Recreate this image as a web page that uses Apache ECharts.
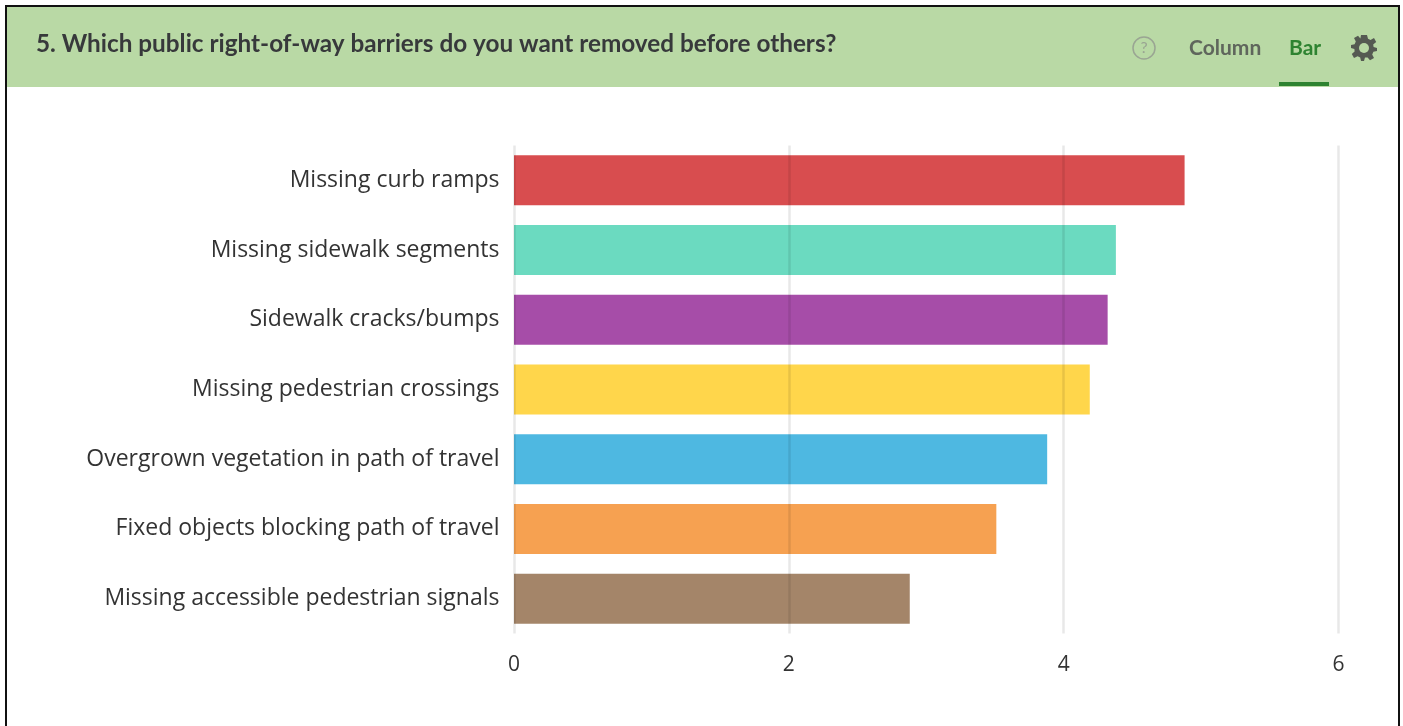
<!DOCTYPE html>
<html>
<head>
<meta charset="utf-8">
<title>Public right-of-way barriers</title>
<style>
html,body{margin:0;padding:0;background:#fff}
#chart{width:1403px;height:726px}
</style>
<script src="https://cdn.jsdelivr.net/npm/echarts@6/dist/echarts.min.js"></script>
</head>
<body>
<div id="chart"></div>
<script>
const questionTitle = '5. Which public right-of-way barriers do you want removed before others?';
const categories = [
  'Missing curb ramps',
  'Missing sidewalk segments',
  'Sidewalk cracks/bumps',
  'Missing pedestrian crossings',
  'Overgrown vegetation in path of travel',
  'Fixed objects blocking path of travel',
  'Missing accessible pedestrian signals'
];
const averageRanks = [4.88, 4.38, 4.32, 4.19, 3.88, 3.51, 2.88];
const barColors = ['#d12e30', '#51d3b5', '#962e99', '#ffcf2b', '#2fabdc', '#f59032', '#94704f'];
const tabLabels = ['Column', 'Bar'];

// Outline of the settings gear, centred on the origin
const gearOutline = [
  [-3,-13],[3,-13],[4,-9.2],[6.5,-8],[10,-10],[12.2,-6],[9.2,-3.6],[9.6,-1],[13,0],
  [13,3],[9.4,3.8],[8.2,6.4],[10,10],[6,12.2],[3.6,9.4],[1,9.6],[0,13],
  [-3,13],[-3.8,9.4],[-6.4,8.2],[-10,10],[-12.2,6],[-9.4,3.6],[-9.6,1],[-13,0],
  [-13,-3],[-9.4,-3.8],[-8.2,-6.4],[-10,-10],[-6,-12.2],[-3.6,-9.4]
];

const chart = echarts.init(document.getElementById('chart'), null, {renderer: 'canvas'});
chart.setOption({
  animation: false,
  backgroundColor: '#ffffff',
  grid: {left: 514, right: 64.5, top: 145.5, bottom: 92.5, containLabel: false},
  xAxis: {
    type: 'value',
    z: 3,
    min: 0,
    max: 6,
    interval: 2,
    axisLine: {show: false},
    axisTick: {show: false},
    axisLabel: {color: '#333333', fontFamily: 'Open Sans', fontSize: 21, margin: 21},
    splitLine: {show: true, lineStyle: {color: 'rgba(0,0,0,0.09)', width: 2.5}}
  },
  yAxis: {
    type: 'category',
    inverse: true,
    data: categories,
    axisLine: {show: false},
    axisTick: {show: false},
    axisLabel: {color: '#333333', fontFamily: 'Open Sans', fontSize: 23, margin: 14.5, padding: [4, 0, 0, 0]}
  },
  series: [{
    type: 'bar',
    barWidth: 50,
    data: averageRanks.map((value, i) => ({
      value,
      itemStyle: {color: barColors[i], opacity: 0.85}
    }))
  }],
  graphic: [
    {type: 'rect', z: 10, shape: {x: 7, y: 7, width: 1392, height: 80}, style: {fill: '#b9d9a5'}},
    {type: 'rect', z: 11, shape: {x: 5, y: 5, width: 1395, height: 2}, style: {fill: '#111111'}},
    {type: 'rect', z: 11, shape: {x: 5, y: 5, width: 2, height: 721}, style: {fill: '#111111'}},
    {type: 'rect', z: 11, shape: {x: 1398, y: 5, width: 2, height: 721}, style: {fill: '#111111'}},
    {type: 'text', z: 12, x: 36, y: 44, style: {
      text: questionTitle, fill: '#37393b', fontFamily: 'Lato', fontWeight: 'bold',
      fontSize: 24.3, textAlign: 'left', textVerticalAlign: 'middle'
    }},
    {type: 'circle', z: 12, shape: {cx: 1144, cy: 48, r: 11}, style: {fill: 'none', stroke: '#9aa593', lineWidth: 1.5}},
    {type: 'text', z: 12, x: 1144, y: 48, style: {
      text: '?', fill: '#9aa593', fontFamily: 'Lato', fontSize: 16, textAlign: 'center', textVerticalAlign: 'middle'
    }},
    {type: 'text', z: 12, x: 1189, y: 48, style: {
      text: tabLabels[0], fill: '#5f665c', fontFamily: 'Lato', fontWeight: 'bold', fontSize: 21,
      textAlign: 'left', textVerticalAlign: 'middle'
    }},
    {type: 'text', z: 12, x: 1289, y: 48, style: {
      text: tabLabels[1], fill: '#2e8331', fontFamily: 'Lato', fontWeight: 'bold', fontSize: 21,
      textAlign: 'left', textVerticalAlign: 'middle'
    }},
    {type: 'rect', z: 12, shape: {x: 1279, y: 82, width: 50, height: 4}, style: {fill: '#2e8331'}},
    {type: 'polygon', z: 12, x: 1364, y: 48, shape: {points: gearOutline}, style: {fill: '#555a52'}},
    {type: 'circle', z: 13, shape: {cx: 1364, cy: 48, r: 5}, style: {fill: '#b9d9a5'}}
  ]
});
</script>
</body>
</html>
